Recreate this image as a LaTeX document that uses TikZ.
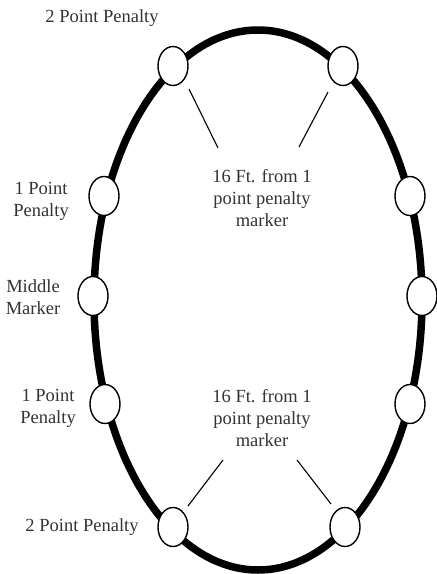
\documentclass[tikz,border=0pt]{standalone}
\usepackage{fontspec}
\setmainfont{Liberation Serif}
\usetikzlibrary{shapes.geometric}
\begin{document}
\begin{tikzpicture}[x=1pt,y=-1pt,
  marker/.style={ellipse,draw=black,line width=1.4pt,fill=white,minimum width=30pt,minimum height=39pt,inner sep=0pt},
  lbl/.style={font=\fontsize{18.5}{22}\selectfont,text=black!80,align=center,inner sep=0pt},
  leader/.style={draw=black,line width=1.1pt}]
\useasboundingbox (0,0) rectangle (437,574);
\draw[line width=7.5pt,black] (258,300) ellipse [x radius=164, y radius=270];
\node[marker] (m1) at (173,66) {};
\node[marker] (m2) at (343,66) {};
\node[marker] (m3) at (104,196) {};
\node[marker] (m4) at (410,196) {};
\node[marker] (m5) at (93,296) {};
\node[marker] (m6) at (422,296) {};
\node[marker] (m7) at (105,404) {};
\node[marker] (m8) at (410,404) {};
\node[marker] (m9) at (173,527) {};
\node[marker] (m10) at (345,527) {};
\node[lbl] (t1) at (102,18) {2 Point Penalty};
\node[lbl] (t2) at (41,201) {1 Point\\Penalty};
\node[lbl] (t3) at (33,297) {Middle\\Marker};
\node[lbl] (t4) at (48,408) {1 Point\\Penalty};
\node[lbl] (t5) at (82,527) {2 Point Penalty};
\node[lbl] (c1) at (262,198) {16 Ft. from 1\\point penalty\\marker};
\node[lbl] (c2) at (262,418) {16 Ft. from 1\\point penalty\\marker};
\coordinate (a1) at (189,89); \coordinate (b1) at (218,148);
\coordinate (a2) at (328,92); \coordinate (b2) at (299,147);
\coordinate (a3) at (223,460); \coordinate (b3) at (188,506);
\coordinate (a4) at (297,460); \coordinate (b4) at (331,504);
\draw[leader] (a1) -- (b1);
\draw[leader] (a2) -- (b2);
\draw[leader] (a3) -- (b3);
\draw[leader] (a4) -- (b4);
\end{tikzpicture}
\end{document}
